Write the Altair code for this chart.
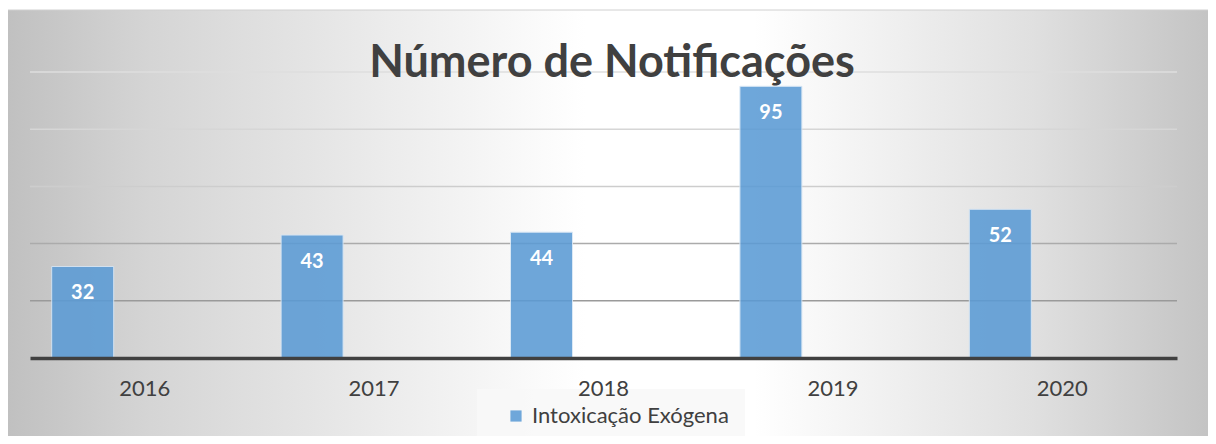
import altair as alt
import pandas as pd

years = ["2016", "2017", "2018", "2019", "2020"]
values = [32, 43, 44, 95, 52]
series_name = "Intoxicação Exógena"
series_slots = [series_name, "s2", "s3"]
title_text = "Número de Notificações"
grid_values = [20, 40, 60, 80, 100]

df = pd.DataFrame({"ano": years, "valor": values, "serie": [series_name] * len(years)})
grid_df = pd.DataFrame({"g": grid_values})
one_df = pd.DataFrame({"k": [0]})

FONT = "Lato"
W, H = 1147, 286
Y_SCALE = alt.Scale(domain=[0, 100], nice=False)

x_enc = alt.X("ano:N", sort=years, title=None,
              scale=alt.Scale(paddingInner=0, paddingOuter=0),
              axis=alt.Axis(labelAngle=0, labelFont=FONT, labelFontSize=22, labelColor="#404040",
                            labelPadding=20, ticks=False, domain=True, domainColor="#404040",
                            domainWidth=3.5, grid=False, zindex=1))
xoff = alt.XOffset("serie:N", scale=alt.Scale(domain=series_slots, paddingOuter=0.35, paddingInner=0))
y_enc = alt.Y("valor:Q", title=None, scale=Y_SCALE, axis=None)

grad = alt.LinearGradient(gradient="linear", x1=0, y1=0.5, x2=1, y2=0.5,
                          stops=[alt.GradientStop(offset=0, color="#c0c0c0"),
                                 alt.GradientStop(offset=0.12, color="#d5d5d5"),
                                 alt.GradientStop(offset=0.48, color="#ffffff"),
                                 alt.GradientStop(offset=0.62, color="#ffffff"),
                                 alt.GradientStop(offset=0.85, color="#e0e0e0"),
                                 alt.GradientStop(offset=1, color="#c3c3c3")])

bg = alt.Chart(one_df).mark_rect(color=grad, stroke="#d0d0d0", strokeWidth=1).encode(
    x=alt.value(-24), x2=alt.value(1183), y=alt.value(-62), y2=alt.value(372))

grid = alt.Chart(grid_df).mark_rule(strokeWidth=1.5).encode(
    y=alt.Y("g:Q", scale=Y_SCALE, axis=None),
    x=alt.value(0), x2=alt.value(W),
    color=alt.Color("g:O", legend=None,
                    scale=alt.Scale(domain=grid_values,
                                    range=["#9a9a9a", "#ababab", "#cdcdcd", "#d6d6d6", "#dedede"])))

bars = alt.Chart(df).mark_bar(opacity=0.88, stroke="#d6e6f5", strokeWidth=1).encode(
    x=x_enc, xOffset=xoff, y=y_enc,
    color=alt.Color("serie:N", scale=alt.Scale(domain=[series_name], range=["#5B9BD5"]),
                    legend=alt.Legend(title=None, orient="none", legendX=447, legendY=317,
                                      direction="horizontal", symbolType="square", symbolSize=125,
                                      symbolStrokeWidth=0, symbolOpacity=0.88,
                                      labelFont=FONT, labelFontSize=22, labelColor="#404040",
                                      fillColor="rgba(248,248,248,0.85)", padding=16,
                                      labelLimit=400, symbolOffset=12, labelOffset=5)))

labels = alt.Chart(df).mark_text(font=FONT, fontSize=20, fontWeight="bold", color="white",
                                 baseline="middle", dy=27).encode(
    x=alt.X("ano:N", sort=years), xOffset=alt.XOffset("serie:N"), y="valor:Q", text="valor:Q")

title = alt.Chart(one_df).mark_text(font=FONT, fontSize=45, fontWeight="bold", color="#404040",
                                    align="center", baseline="alphabetic").encode(
    x=alt.value(582), y=alt.value(5), text=alt.value(title_text))

chart = alt.layer(bg, grid, bars, labels, title).properties(
    width=W, height=H,
    autosize=alt.AutoSizeParams(type="none"),
    padding={"left": 22, "top": 64, "right": 31, "bottom": 78},
    background="white",
).resolve_scale(color="independent").configure_view(stroke=None)

chart.save("out.html", embed_options={"renderer": "svg", "actions": False})
